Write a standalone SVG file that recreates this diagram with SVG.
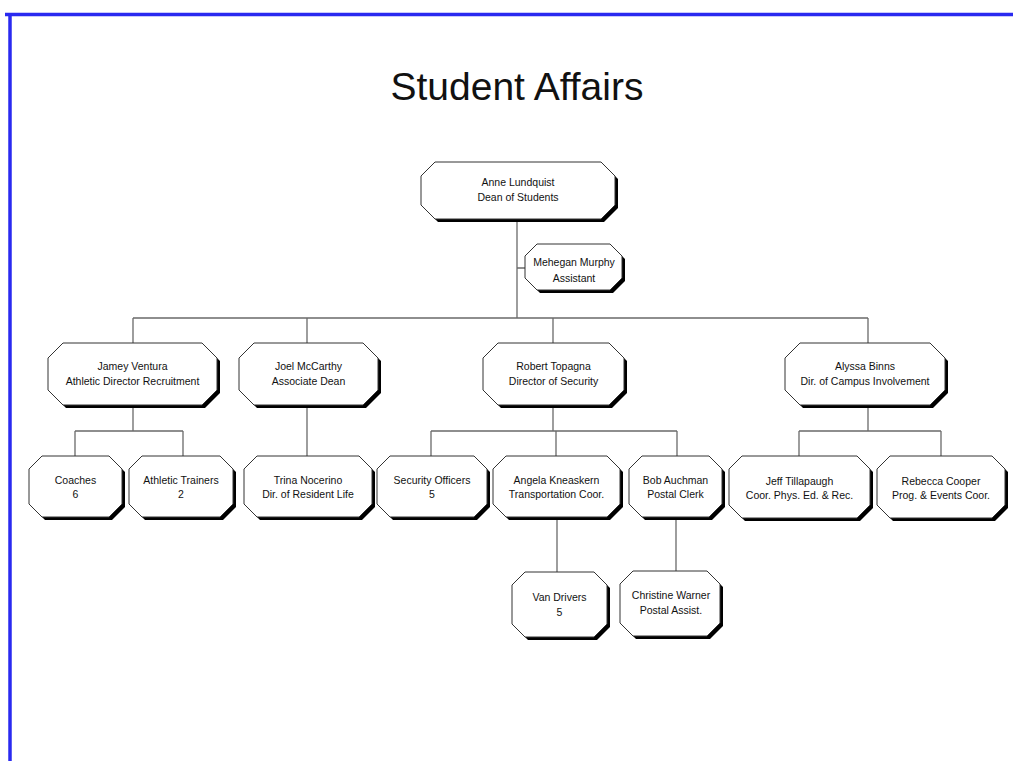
<svg xmlns="http://www.w3.org/2000/svg" width="1013" height="761" viewBox="0 0 1013 761">
<style>
.sh{fill:#000}
.bx{fill:#fff;stroke:#333;stroke-width:1}
.t{font-family:"Liberation Sans",Arial,sans-serif;font-size:10.5px;fill:#111;text-anchor:middle}
.ln{stroke:#6a6a6a;stroke-width:1.3;fill:none}
</style>
<rect width="1013" height="761" fill="#fff"/>
<g id="frame">
<line x1="5" y1="14.5" x2="1013" y2="14.5" stroke="#2a2af0" stroke-width="3.5"/>
<line x1="10" y1="13" x2="10" y2="761" stroke="#2a2af0" stroke-width="3.5"/>
</g>
<text x="517" y="100" font-family="Liberation Sans,Arial,sans-serif" font-size="39" fill="#111" text-anchor="middle">Student Affairs</text>
<g id="connectors" class="ln">
<path d="M517 221V318M517 268H525M133 318H868M133 318V343M307 318V343M553 318V343M868 318V343"/>
<path d="M133 408V431M75 431H183M75 431V456M183 431V456M307 408V456"/>
<path d="M553 408V431M431 431H677M431 431V456M556 431V456M677 431V456"/>
<path d="M868 408V431M799 431H941M799 431V456M941 431V456"/>
<path d="M557 520V572M676 520V571"/>
</g>
<g id="n1"><polygon class="sh" points="438,165 604,165 618,179 618,208 604,222 438,222 424,208 424,179"/><polygon class="bx" points="435,162 601,162 615,176 615,205 601,219 435,219 421,205 421,176"/><text class="t" x="518" y="186">Anne Lundquist</text><text class="t" x="518" y="201">Dean of Students</text></g>
<g id="n2"><polygon class="sh" points="540,247 613,247 625,259 625,281 613,293 540,293 528,281 528,259"/><polygon class="bx" points="537,244 610,244 622,256 622,278 610,290 537,290 525,278 525,256"/><text class="t" x="574" y="266">Mehegan Murphy</text><text class="t" x="574" y="282">Assistant</text></g>
<g id="n3"><polygon class="sh" points="66,346 205,346 220,361 220,393 205,408 66,408 51,393 51,361"/><polygon class="bx" points="63,343 202,343 217,358 217,390 202,405 63,405 48,390 48,358"/><text class="t" x="132.5" y="370">Jamey Ventura</text><text class="t" x="132.5" y="385">Athletic Director Recruitment</text></g>
<g id="n4"><polygon class="sh" points="257,346 366,346 381,361 381,393 366,408 257,408 242,393 242,361"/><polygon class="bx" points="254,343 363,343 378,358 378,390 363,405 254,405 239,390 239,358"/><text class="t" x="308.5" y="370">Joel McCarthy</text><text class="t" x="308.5" y="385">Associate Dean</text></g>
<g id="n5"><polygon class="sh" points="501,346 612,346 627,361 627,393 612,408 501,408 486,393 486,361"/><polygon class="bx" points="498,343 609,343 624,358 624,390 609,405 498,405 483,390 483,358"/><text class="t" x="553.5" y="370">Robert Topagna</text><text class="t" x="553.5" y="385">Director of Security</text></g>
<g id="n6"><polygon class="sh" points="803,346 933,346 948,361 948,393 933,408 803,408 788,393 788,361"/><polygon class="bx" points="800,343 930,343 945,358 945,390 930,405 800,405 785,390 785,358"/><text class="t" x="865" y="370">Alyssa Binns</text><text class="t" x="865" y="385">Dir. of Campus Involvement</text></g>
<g id="n7"><polygon class="sh" points="45,459 112,459 125,472 125,507 112,520 45,520 32,507 32,472"/><polygon class="bx" points="42,456 109,456 122,469 122,504 109,517 42,517 29,504 29,469"/><text class="t" x="75.5" y="484">Coaches</text><text class="t" x="75.5" y="498">6</text></g>
<g id="n8"><polygon class="sh" points="145,459 223,459 236,472 236,507 223,520 145,520 132,507 132,472"/><polygon class="bx" points="142,456 220,456 233,469 233,504 220,517 142,517 129,504 129,469"/><text class="t" x="181" y="484">Athletic Trainers</text><text class="t" x="181" y="498">2</text></g>
<g id="n9"><polygon class="sh" points="260,459 362,459 375,472 375,507 362,520 260,520 247,507 247,472"/><polygon class="bx" points="257,456 359,456 372,469 372,504 359,517 257,517 244,504 244,469"/><text class="t" x="308" y="484">Trina Nocerino</text><text class="t" x="308" y="498">Dir. of Resident Life</text></g>
<g id="n10"><polygon class="sh" points="393,459 477,459 490,472 490,507 477,520 393,520 380,507 380,472"/><polygon class="bx" points="390,456 474,456 487,469 487,504 474,517 390,517 377,504 377,469"/><text class="t" x="432" y="484">Security Officers</text><text class="t" x="432" y="498">5</text></g>
<g id="n11"><polygon class="sh" points="509,459 610,459 623,472 623,507 610,520 509,520 496,507 496,472"/><polygon class="bx" points="506,456 607,456 620,469 620,504 607,517 506,517 493,504 493,469"/><text class="t" x="556.5" y="484">Angela Kneaskern</text><text class="t" x="556.5" y="498">Transportation Coor.</text></g>
<g id="n12"><polygon class="sh" points="645,459 712,459 725,472 725,507 712,520 645,520 632,507 632,472"/><polygon class="bx" points="642,456 709,456 722,469 722,504 709,517 642,517 629,504 629,469"/><text class="t" x="675.5" y="484">Bob Auchman</text><text class="t" x="675.5" y="498">Postal Clerk</text></g>
<g id="n13"><polygon class="sh" points="745,459 860,459 873,472 873,508 860,521 745,521 732,508 732,472"/><polygon class="bx" points="742,456 857,456 870,469 870,505 857,518 742,518 729,505 729,469"/><text class="t" x="799.5" y="485">Jeff Tillapaugh</text><text class="t" x="799.5" y="499">Coor. Phys. Ed. &amp; Rec.</text></g>
<g id="n14"><polygon class="sh" points="893,459 995,459 1008,472 1008,508 995,521 893,521 880,508 880,472"/><polygon class="bx" points="890,456 992,456 1005,469 1005,505 992,518 890,518 877,505 877,469"/><text class="t" x="941" y="485">Rebecca Cooper</text><text class="t" x="941" y="499">Prog. &amp; Events Coor.</text></g>
<g id="n15"><polygon class="sh" points="528,575 597,575 610,588 610,627 597,640 528,640 515,627 515,588"/><polygon class="bx" points="525,572 594,572 607,585 607,624 594,637 525,637 512,624 512,585"/><text class="t" x="559.5" y="601">Van Drivers</text><text class="t" x="559.5" y="616">5</text></g>
<g id="n16"><polygon class="sh" points="636,574 710,574 723,587 723,626 710,639 636,639 623,626 623,587"/><polygon class="bx" points="633,571 707,571 720,584 720,623 707,636 633,636 620,623 620,584"/><text class="t" x="671" y="599">Christine Warner</text><text class="t" x="671" y="614">Postal Assist.</text></g>
</svg>
